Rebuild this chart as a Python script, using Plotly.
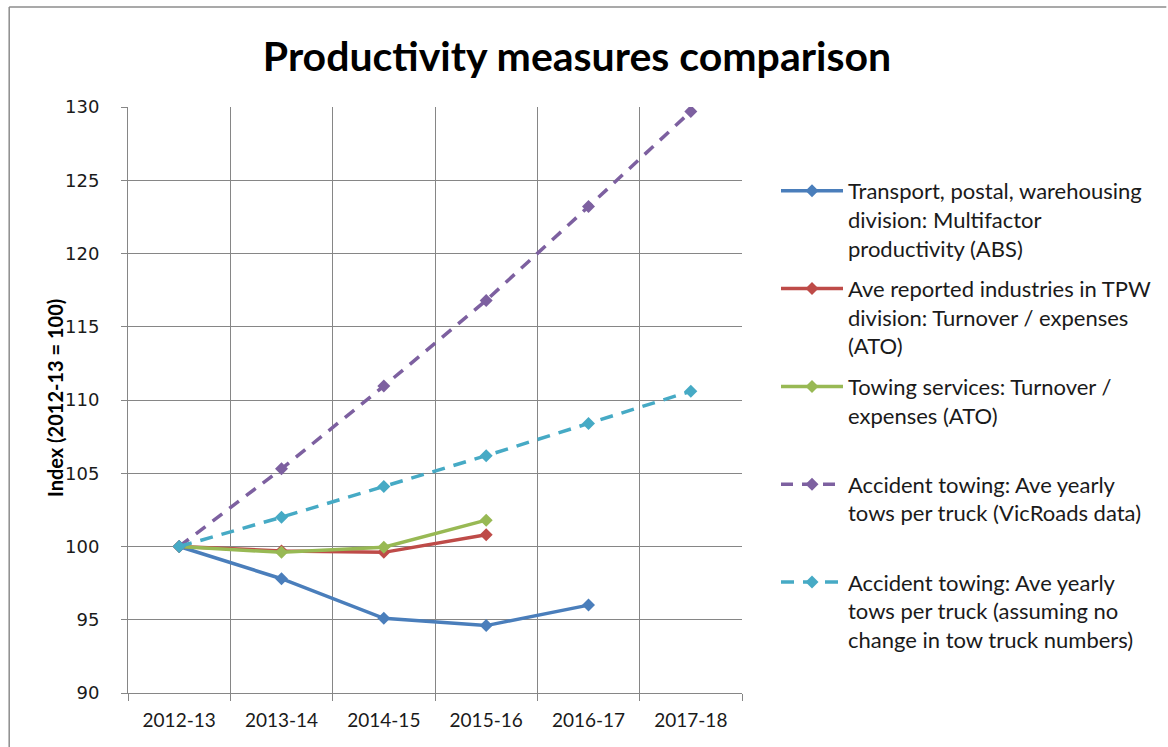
import plotly.graph_objects as go

years = ["2012-13", "2013-14", "2014-15", "2015-16", "2016-17", "2017-18"]

tpw_mfp = [100, 97.8, 95.1, 94.6, 96.0]
tpw_turnover = [100, 99.7, 99.6, 100.8]
towing_turnover = [100, 99.6, 99.95, 101.8]
accident_vicroads = [100, 105.3, 110.95, 116.8, 123.2, 129.7]
accident_no_change = [100, 102.0, 104.1, 106.2, 108.4, 110.6]

names = [
    "Transport, postal, warehousing<br>division: Multifactor<br>productivity (ABS)",
    "Ave reported industries in TPW<br>division: Turnover / expenses<br>(ATO)",
    "Towing services: Turnover /<br>expenses (ATO)<br> ",
    "Accident towing: Ave yearly<br>tows per truck (VicRoads data)<br> ",
    "Accident towing: Ave yearly<br>tows per truck (assuming no<br>change in tow truck numbers)",
]
colors = ["#4A7EBB", "#BE4B48", "#98B954", "#7D60A0", "#46AAC5"]
series = [tpw_mfp, tpw_turnover, towing_turnover, accident_vicroads, accident_no_change]
dashes = ["solid", "solid", "solid", "12px,9px", "13px,9px"]

fig = go.Figure()
for i, (nm, col, ys, d) in enumerate(zip(names, colors, series, dashes)):
    fig.add_trace(go.Scatter(
        x=years[:len(ys)], y=ys, name=nm, mode="lines+markers",
        line=dict(color=col, width=3.5, dash=d),
        marker=dict(symbol="diamond", size=10, color=col),
        legendgroup=f"g{i}",
    ))

L, R, T, B = 128, 425, 107, 54
W, H = 1168, 747
pw, ph = W - L - R, H - T - B

def px_x(p):
    return (p - L) / pw

def px_y(p):
    return (H - B - p) / ph

fig.update_layout(
    width=W, height=H,
    margin=dict(l=L, r=R, t=T, b=B),
    paper_bgcolor="white", plot_bgcolor="white",
    title=dict(text="<b>Productivity measures comparison</b>", x=0.494, xanchor="center",
               y=1 - 57 / H, yanchor="middle",
               font=dict(family="Lato", size=41, color="black")),
    showlegend=True,
    legend=dict(x=px_x(776), y=px_y(170), xanchor="left", yanchor="top",
                font=dict(family="Lato", size=22, color="#1a1a1a"),
                tracegroupgap=9, valign="top", bgcolor="rgba(0,0,0,0)",
                itemwidth=62),
    xaxis=dict(type="category", tickson="boundaries", showgrid=True,
               gridcolor="#868686", gridwidth=1, ticks="outside", ticklen=7,
               tickcolor="#868686", showline=True, linecolor="#868686",
               ticklabelstandoff=10,
               tickfont=dict(family="Lato", size=19, color="#1a1a1a"),
               range=[-0.5, 5.5], mirror=False),
    yaxis=dict(range=[90, 130], dtick=5, showgrid=True, gridcolor="#868686",
               gridwidth=1, ticks="outside", ticklen=6, tickcolor="#868686",
               showline=True, linecolor="#868686", ticklabelstandoff=18,
               tickfont=dict(family="DejaVu Sans", size=18, color="#1a1a1a"),
               zeroline=False),
    annotations=[
        dict(text="<b>Index (2012-13 = 100)</b>", xref="paper", yref="paper",
             x=px_x(55), y=px_y(398), textangle=-90, showarrow=False,
             xanchor="center", yanchor="middle",
             font=dict(family="Lato", size=20, color="black")),
    ],
    shapes=[
        dict(type="line", xref="paper", yref="paper", x0=px_x(9), x1=px_x(1168),
             y0=px_y(7), y1=px_y(7), line=dict(color="#8c8c8c", width=1.5)),
        dict(type="line", xref="paper", yref="paper", x0=px_x(9), x1=px_x(9),
             y0=px_y(7), y1=px_y(747), line=dict(color="#8c8c8c", width=1.5)),
    ],
)

fig.write_html("out.html", config={"displayModeBar": False},
               post_script="document.body.style.margin='0px';")
